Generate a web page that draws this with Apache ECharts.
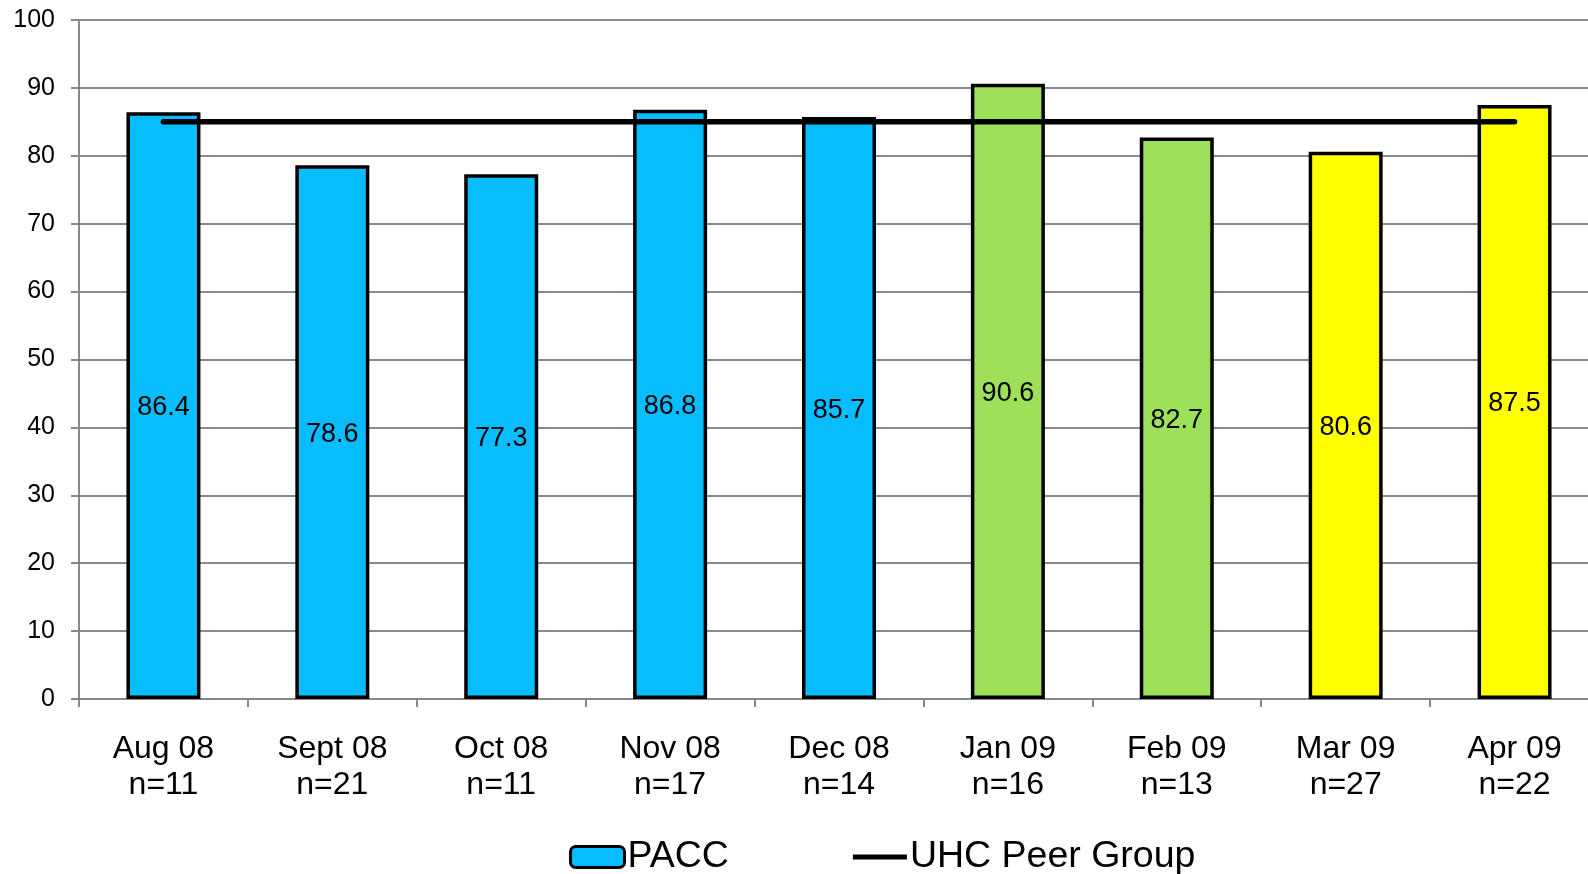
<!DOCTYPE html>
<html>
<head>
<meta charset="utf-8">
<script src="https://cdn.jsdelivr.net/npm/echarts@6/dist/echarts.min.js"></script>
<style>
html,body{margin:0;padding:0;background:#fff;}
#chart{width:1588px;height:874px;}
</style>
</head>
<body>
<div id="chart"></div>
<script>
const months = ['Aug 08','Sept 08','Oct 08','Nov 08','Dec 08','Jan 09','Feb 09','Mar 09','Apr 09'];
const counts = ['n=11','n=21','n=11','n=17','n=14','n=16','n=13','n=27','n=22'];
const paccValues = [86.4, 78.6, 77.3, 86.8, 85.7, 90.6, 82.7, 80.6, 87.5];
const peerValues = [85, 85, 85, 85, 85, 85, 85, 85, 85];
const barColors = ['#08BDFD','#08BDFD','#08BDFD','#08BDFD','#08BDFD','#9DE05A','#9DE05A','#FFFF00','#FFFF00'];
const yTicks = {min: 0, max: 100, interval: 10};

const categories = months.map((m, i) => m + '\n' + counts[i]);
const font = 'Liberation Sans, Arial, sans-serif';

const chart = echarts.init(document.getElementById('chart'), null, {renderer: 'canvas'});
chart.setOption({
  animation: false,
  backgroundColor: '#ffffff',
  textStyle: {fontFamily: font, color: '#000'},
  grid: {left: 79, width: 1520, top: 20, bottom: 175, containLabel: false, outerBoundsMode: 'none'},
  legend: {
    left: 564,
    top: 833,
    itemGap: 124,
    itemWidth: 54,
    itemHeight: 21,
    symbolKeepAspect: true,
    textStyle: {fontFamily: font, fontSize: 37.5, color: '#000', padding: [0, 0, 0, -2]},
    data: [
      {name: 'PACC', icon: 'roundRect', itemStyle: {color: '#08BDFD', borderColor: '#000', borderWidth: 3}},
      {name: 'UHC Peer Group', icon: 'path://M0,0 L54,0 L54,5 L0,5 Z', itemStyle: {color: '#000', borderWidth: 0}}
    ]
  },
  xAxis: {
    type: 'category',
    data: categories,
    boundaryGap: true,
    axisLine: {show: true, lineStyle: {color: '#888', width: 2}},
    axisTick: {show: true, alignWithLabel: false, length: 8, lineStyle: {color: '#888', width: 2}},
    axisLabel: {fontFamily: font, fontSize: 32, color: '#000', lineHeight: 36, margin: 32, interval: 0}
  },
  yAxis: {
    type: 'value',
    min: yTicks.min, max: yTicks.max, interval: yTicks.interval,
    axisLine: {show: true, lineStyle: {color: '#888', width: 2}},
    axisTick: {show: true, length: 8, lineStyle: {color: '#888', width: 2}},
    axisLabel: {fontFamily: font, fontSize: 25, color: '#000', margin: 24},
    splitLine: {show: true, lineStyle: {color: '#8a8a8a', width: 2}}
  },
  series: [
    {
      name: 'PACC',
      type: 'bar',
      barWidth: 74,
      z: 2,
      itemStyle: {color: '#08BDFD', borderColor: '#000', borderWidth: 3.5},
      label: {show: true, position: 'inside', fontFamily: font, fontSize: 27, color: '#000', offset: [0, 2]},
      data: paccValues.map((v, i) => ({value: v, itemStyle: {color: barColors[i]}}))
    },
    {
      name: 'UHC Peer Group',
      type: 'line',
      z: 5,
      symbol: 'none',
      lineStyle: {color: '#000', width: 5.5, cap: 'round'},
      itemStyle: {color: '#000'},
      data: peerValues
    }
  ]
});
</script>
</body>
</html>
